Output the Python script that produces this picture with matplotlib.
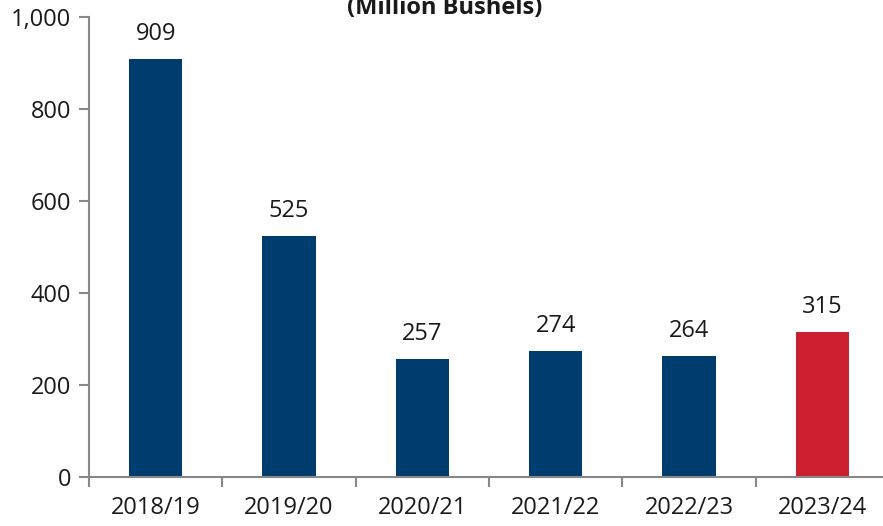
import matplotlib.pyplot as plt

# marketing years and ending stocks (million bushels)
years = ["2018/19", "2019/20", "2020/21", "2021/22", "2022/23", "2023/24"]
stocks = [909, 525, 257, 274, 264, 315]
colors = ["#003D6F"] * 5 + ["#CC1F2F"]

plt.rcParams['font.family'] = ['Open Sans', 'DejaVu Sans']

fig = plt.figure(figsize=(8.83, 5.26), dpi=100)
ax = fig.add_axes([89 / 883, 49 / 526, 800 / 883, 460 / 526])

x = list(range(len(years)))
ax.bar(x, stocks, width=0.4, color=colors)
for xi, v in zip(x, stocks):
    ax.text(xi, v + 28, str(v), ha='center', va='bottom', fontsize=17, color='#1a1a1a')

ax.set_xlim(-0.5, len(years) - 0.5)
ax.set_ylim(0, 1000)
ax.set_yticks([0, 200, 400, 600, 800, 1000])
ax.set_yticklabels(["0", "200", "400", "600", "800", "1,000"])
ax.set_xticks(x)
ax.set_xticklabels(years)
ax.set_xticks([i - 0.5 for i in range(len(years) + 1)], minor=True)
ax.tick_params(axis='x', which='major', length=0, pad=14, labelsize=17, labelcolor='#1a1a1a')
ax.tick_params(axis='x', which='minor', length=7, width=1.5, color='#888888', direction='out')
ax.tick_params(axis='y', length=7, width=1.5, color='#888888', pad=6, labelsize=17, labelcolor='#1a1a1a')

for s in ['top', 'right']:
    ax.spines[s].set_visible(False)
for s in ['left', 'bottom']:
    ax.spines[s].set_color('#888888')
    ax.spines[s].set_linewidth(1.5)

fig.text(445 / 883, 1 - 14 / 526, "(Million Bushels)", ha='center', va='baseline',
         fontsize=17, fontweight='bold', color='#1a1a1a')

fig.savefig("out.png", dpi=100)
